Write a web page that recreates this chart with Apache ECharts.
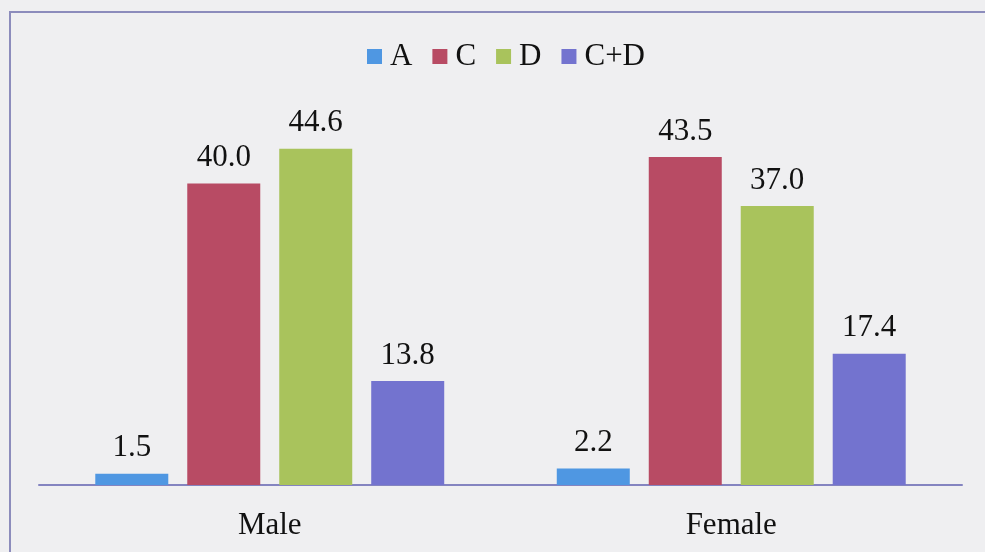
<!DOCTYPE html>
<html>
<head>
<meta charset="utf-8">
<script src="https://cdn.jsdelivr.net/npm/echarts@6/dist/echarts.min.js"></script>
<style>
html,body{margin:0;padding:0;background:#efeff1;}
#chart{width:985px;height:552px;}
</style>
</head>
<body>
<div id="chart"></div>
<script>
const categories = ['Male', 'Female'];
const seriesNames = ['A', 'C', 'D', 'C+D'];
const valuesA = [1.5, 2.2];
const valuesC = [40.0, 43.5];
const valuesD = [44.6, 37.0];
const valuesCD = [13.8, 17.4];
const colors = ['#4f97e2', '#b84b64', '#a9c35c', '#7373cf'];

const allValues = [valuesA, valuesC, valuesD, valuesCD];
const FONT = '"Liberation Serif", "Times New Roman", serif';

const chart = echarts.init(document.getElementById('chart'));
chart.setOption({
  backgroundColor: '#efeff1',
  animation: false,
  color: colors,
  graphic: [{
    type: 'rect',
    shape: { x: 10, y: 12, width: 1000, height: 600 },
    style: { fill: 'transparent', stroke: '#8c8cbc', lineWidth: 2 },
    silent: true
  }],
  legend: {
    data: seriesNames,
    top: 36,
    left: 362,
    itemWidth: 15,
    itemHeight: 15,
    itemGap: 20,
    icon: 'rect',
    textStyle: { fontFamily: FONT, fontSize: 31, color: '#111', padding: [0, 0, 0, 3] }
  },
  grid: { left: 39, right: 23, top: 108, bottom: 67, containLabel: false },
  xAxis: {
    type: 'category',
    data: categories,
    axisLine: { lineStyle: { color: '#8484c0', width: 2 } },
    axisTick: { show: false },
    axisLabel: { fontFamily: FONT, fontSize: 31, color: '#111', margin: 25 }
  },
  yAxis: {
    type: 'value',
    min: 0,
    max: 50,
    show: false,
    splitLine: { show: false }
  },
  series: seriesNames.map((name, i) => ({
    name: name,
    type: 'bar',
    data: allValues[i],
    barWidth: 73,
    barGap: '26%',
    itemStyle: { color: colors[i] },
    label: {
      show: true,
      position: 'top',
      distance: 10,
      formatter: p => p.value.toFixed(1),
      fontFamily: FONT,
      fontSize: 31,
      color: '#111'
    }
  }))
});
</script>
</body>
</html>
